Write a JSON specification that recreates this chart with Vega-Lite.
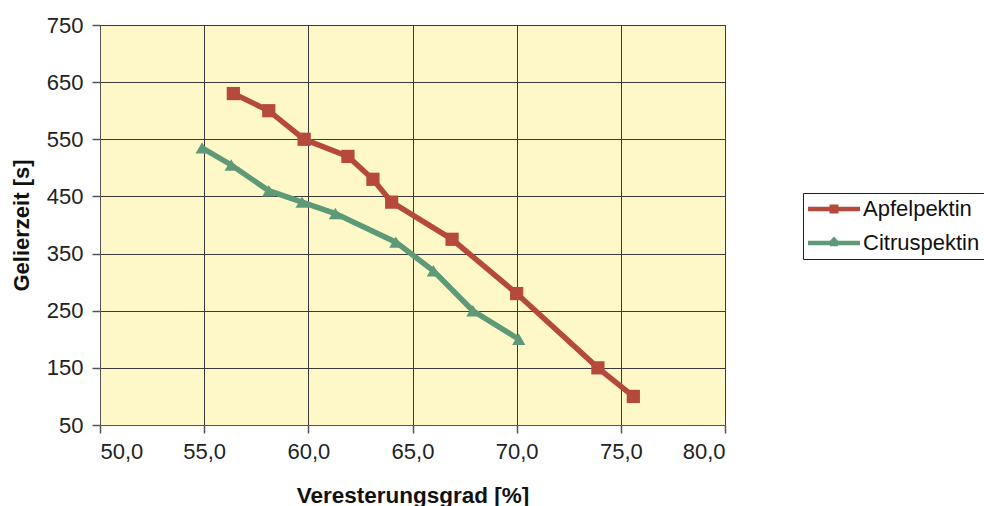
{
  "$schema": "https://vega.github.io/schema/vega-lite/v6.json",
  "width": 625,
  "height": 400,
  "autosize": "none",
  "padding": {"left": 100, "top": 25, "right": 259, "bottom": 81},
  "background": "white",
  "config": {
    "font": "Liberation Sans",
    "view": {"fill": "#FEF8C8", "stroke": "#555555", "strokeWidth": 1}
  },
  "data": {"values": [
    {"x": 56.4, "y": 630, "s": "Apfelpektin"},
    {"x": 58.1, "y": 600, "s": "Apfelpektin"},
    {"x": 59.8, "y": 550, "s": "Apfelpektin"},
    {"x": 61.9, "y": 520, "s": "Apfelpektin"},
    {"x": 63.1, "y": 480, "s": "Apfelpektin"},
    {"x": 64.0, "y": 440, "s": "Apfelpektin"},
    {"x": 66.9, "y": 375, "s": "Apfelpektin"},
    {"x": 70.0, "y": 280, "s": "Apfelpektin"},
    {"x": 73.9, "y": 150, "s": "Apfelpektin"},
    {"x": 75.6, "y": 100, "s": "Apfelpektin"},
    {"x": 54.9, "y": 535, "s": "Citruspektin"},
    {"x": 56.3, "y": 505, "s": "Citruspektin"},
    {"x": 58.1, "y": 460, "s": "Citruspektin"},
    {"x": 59.7, "y": 440, "s": "Citruspektin"},
    {"x": 61.3, "y": 420, "s": "Citruspektin"},
    {"x": 64.2, "y": 370, "s": "Citruspektin"},
    {"x": 66.0, "y": 320, "s": "Citruspektin"},
    {"x": 67.9, "y": 250, "s": "Citruspektin"},
    {"x": 70.1, "y": 200, "s": "Citruspektin"}
  ]},
  "encoding": {
    "x": {"field": "x", "type": "quantitative",
      "scale": {"domain": [50, 80], "nice": false, "zero": false},
      "axis": {"values": [50, 55, 60, 65, 70, 75, 80], "title": "Veresterungsgrad [%]",
        "labelExpr": "replace(format(datum.value, '.1f'), '.', ',')",
        "tickSize": 8, "labelPadding": 8, "titlePadding": 22,
        "gridColor": "#3a3a3a", "gridOpacity": 1, "gridWidth": 1,
        "domainColor": "#555555", "tickColor": "#555555", "tickWidth": 1.5,
        "labelFont": "Liberation Sans", "labelFontSize": 22, "labelColor": "#222222",
        "titleFont": "Liberation Sans", "titleFontSize": 22.5, "titleFontWeight": "bold", "titleColor": "#111111"}},
    "y": {"field": "y", "type": "quantitative",
      "scale": {"domain": [50, 750], "nice": false, "zero": false},
      "axis": {"values": [50, 150, 250, 350, 450, 550, 650, 750], "title": "Gelierzeit [s]",
        "tickSize": 8, "labelPadding": 9, "titlePadding": 13,
        "gridColor": "#3a3a3a", "gridOpacity": 1, "gridWidth": 1,
        "domainColor": "#555555", "tickColor": "#555555", "tickWidth": 1.5,
        "labelFont": "Liberation Sans", "labelFontSize": 22, "labelColor": "#222222",
        "titleFont": "Liberation Sans", "titleFontSize": 22, "titleFontWeight": "bold", "titleColor": "#111111"}},
    "color": {"field": "s", "type": "nominal",
      "scale": {"domain": ["Apfelpektin", "Citruspektin"], "range": ["#B54A3C", "#5E9A78"]}}
  },
  "layer": [
    {
      "mark": {"type": "line", "strokeWidth": 5.5},
      "encoding": {
        "color": {"field": "s", "type": "nominal",
          "legend": {
            "title": null, "orient": "none", "legendX": 703, "legendY": 168,
            "strokeColor": "#222222", "fillColor": "white", "padding": 5,
            "labelFontSize": 22, "labelColor": "#111111", "labelFont": "Liberation Sans",
            "symbolSize": 484, "rowPadding": 12, "labelOffset": 33,
            "symbolType": "M-1,-0.2L3.727,-0.2L3.727,0.2L-1,0.2Z",
            "encode": {
              "symbols": {"update": {
                "shape": {"signal": "datum.value === 'Apfelpektin' ? 'M-1,-0.2L0.955,-0.2L0.955,-0.41L1.773,-0.41L1.773,-0.2L3.727,-0.2L3.727,0.2L1.773,0.2L1.773,0.41L0.955,0.41L0.955,0.2L-1,0.2Z' : 'M-1,-0.2L1.0,-0.2L1.364,-0.6L1.727,-0.2L3.727,-0.2L3.727,0.2L1.73,0.2L1.73,0.3L1.0,0.3L1.0,0.2L-1,0.2Z'"},
                "fill": {"signal": "datum.value === 'Apfelpektin' ? '#B54A3C' : '#5E9A78'"},
                "strokeWidth": {"value": 0},
                "opacity": {"value": 1}
              }}
            }
          }}
      }
    },
    {
      "transform": [{"filter": "datum.s === 'Apfelpektin'"}],
      "mark": {"type": "point", "filled": true, "opacity": 1, "size": 175, "shape": "square"}
    },
    {
      "transform": [{"filter": "datum.s === 'Citruspektin'"}],
      "mark": {"type": "point", "filled": true, "opacity": 1, "size": 175, "shape": "triangle-up"}
    }
  ]
}
